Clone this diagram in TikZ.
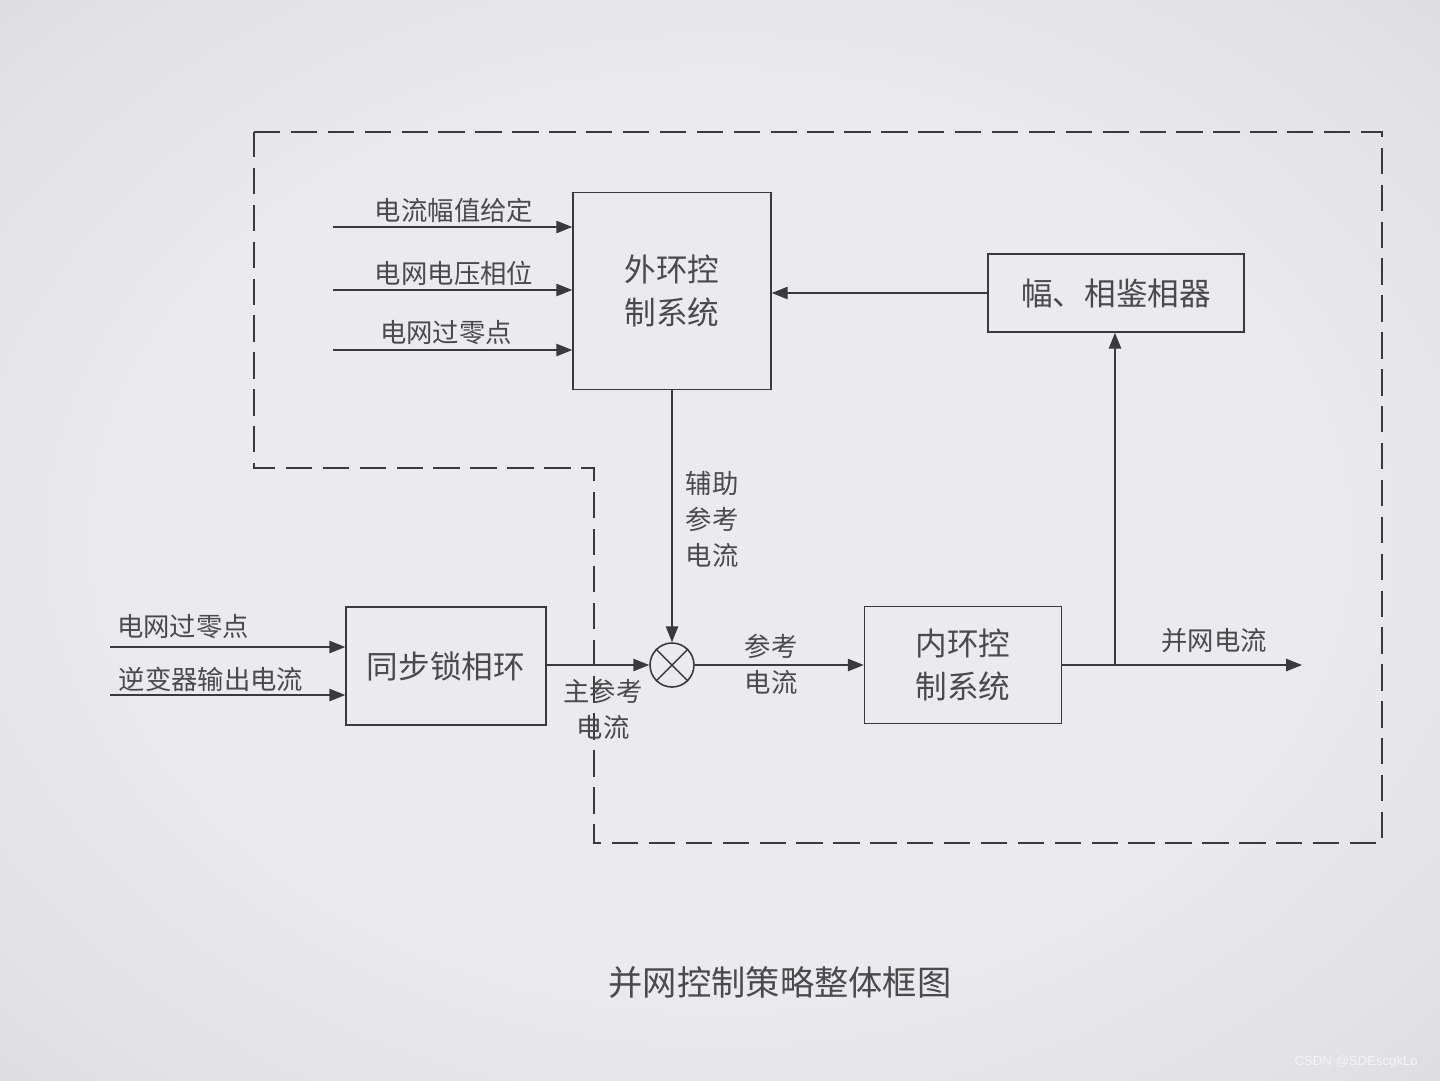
\documentclass[tikz,border=0pt]{standalone}
\usepackage{fontspec}
\setmainfont{Noto Sans CJK SC}
\newfontfamily\wmfont{Liberation Sans}
\usepackage{tikz}
\usetikzlibrary{positioning,arrows.meta}
\definecolor{bgin}{HTML}{EBEAEC}
\definecolor{bgring}{HTML}{E2E1E3}
\definecolor{bgmid}{HTML}{C9C8CA}
\definecolor{bgout}{HTML}{9D9C9E}
\definecolor{inkline}{HTML}{3A3A3A}
\definecolor{inktext}{HTML}{4A4A4A}
\pgfdeclareradialshading{vignette}{\pgfpoint{0bp}{0bp}}{%
  color(0bp)=(bgin); color(20bp)=(bgin); color(32bp)=(bgring);
  color(50bp)=(bgmid); color(72bp)=(bgout)}
\tikzset{
  ctlbox/.style={draw=inkline, line width=0.9pt, font=\fontsize{18}{24}\selectfont,
    text=inktext, align=center, inner sep=0pt},
  sumnode/.style={draw=inkline, line width=0.9pt, circle, minimum size=0.88cm,
    inner sep=0pt},
  sigarr/.style={-{Triangle[length=9pt,width=7pt]}, line width=0.8pt, draw=inkline},
  siglbl/.style={font=\fontsize{15}{20.5}\selectfont, text=inktext, align=center,
    inner sep=0pt},
  regionline/.style={draw=inkline, line width=1.1pt, dash pattern=on 15pt off 6pt},
}

\begin{document}
\begin{tikzpicture}[x=0.02cm, y=-0.02cm]
  % ---- background ----
  \shade[shading=vignette] (0,0) rectangle (1440,1080);
  \useasboundingbox (0,0) rectangle (1440,1080);

  % ---- dashed region ----
  \draw[regionline] (254,132) -- (1382,132) -- (1382,843) -- (594,843)
    -- (594,468) -- (254,468) -- cycle;

  % ---- blocks ----
  \node[ctlbox, minimum width=3.96cm, minimum height=3.94cm] at (672,291) (ohk)
    {外环控\\制系统};
  \node[ctlbox, minimum width=5.12cm, minimum height=1.56cm] at (1116,293) (fxj)
    {幅、相鉴相器};
  \node[ctlbox, minimum width=4.0cm, minimum height=2.36cm] at (446,666) (pll)
    {同步锁相环};
  \node[ctlbox, minimum width=3.94cm, minimum height=2.34cm] at (963,665) (nhk)
    {内环控\\制系统};
  \node[sumnode] at (672,665) (sum) {};
  \draw[inkline, line width=0.8pt] (sum.45) -- (sum.225) (sum.135) -- (sum.315);

  % ---- free ends ----
  \coordinate (in1) at (333,227);
  \coordinate (in2) at (333,290);
  \coordinate (in3) at (333,350);
  \coordinate (pin1) at (110,647);
  \coordinate (pin2) at (110,695);
  \coordinate (br)  at (1115,665);
  \coordinate (out) at (1302,665);

  % ---- labels ----
  \node[siglbl] at (454,210) (l1) {电流幅值给定};
  \node[siglbl] at (454,273) (l2) {电网电压相位};
  \node[siglbl] at (446,333) (l3) {电网过零点};
  \node[siglbl] at (712,519) (laux) {辅助\\参考\\电流};
  \node[siglbl] at (183,627) (lp1) {电网过零点};
  \node[siglbl] at (211,679) (lp2) {逆变器输出电流};
  \node[siglbl] at (603,709) (lmain) {主参考\\电流};
  \node[siglbl] at (771,664) (lref) {参考\\电流};
  \node[siglbl] at (1214,641) (lout) {并网电流};

  % ---- edges ----
  \draw[sigarr] (in1) -- (in1 -| ohk.west);
  \draw[sigarr] (in2) -- (in2 -| ohk.west);
  \draw[sigarr] (in3) -- (in3 -| ohk.west);
  \draw[sigarr] (fxj.west) -- (fxj.west -| ohk.east);
  \draw[sigarr] (ohk.south) -- (sum.north);
  \draw[sigarr] (pin1) -- (pin1 -| pll.west);
  \draw[sigarr] (pin2) -- (pin2 -| pll.west);
  \draw[sigarr] (pll.east |- sum) -- (sum.west);
  \draw[sigarr] (sum.east) -- (sum.east -| nhk.west);
  \draw[sigarr] (nhk.east |- out) -- (out);
  \draw[sigarr] (br) -- (br |- fxj.south);

  % ---- caption ----
  \node[font=\fontsize{19.5}{24}\selectfont, text=inktext] at (780,983) (cap)
    {并网控制策略整体框图};
  \node[font=\wmfont\fontsize{7.5}{9}\selectfont, text=white!92!gray, anchor=east]
    at (1424,1062) (wm) {CSDN @SDEscgkLo};
\end{tikzpicture}
\end{document}
